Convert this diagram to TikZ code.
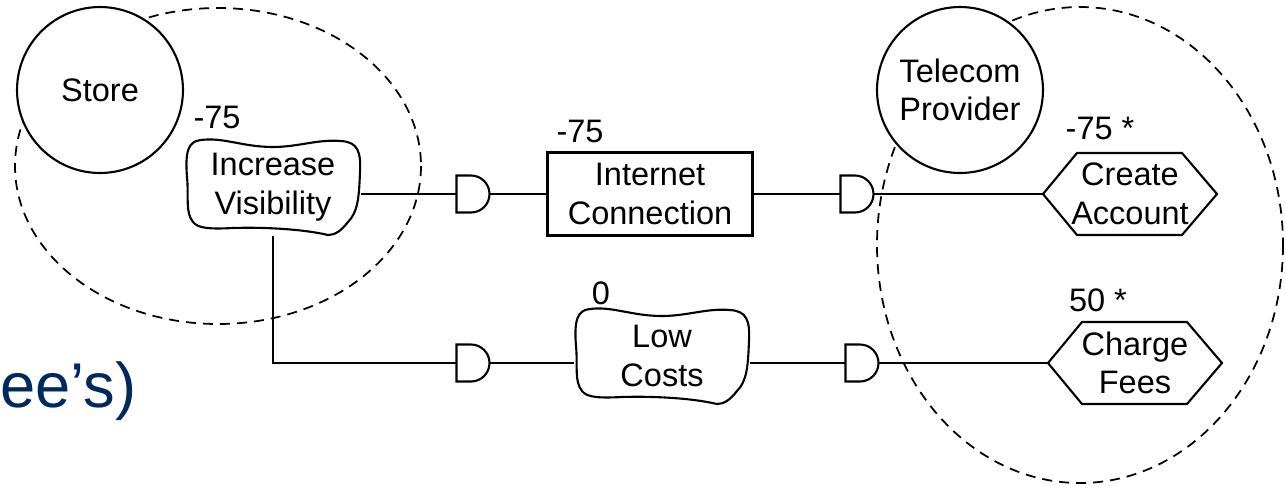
\documentclass[tikz,border=0pt]{standalone}
\usepackage{fontspec}
\setmainfont{Liberation Sans}

\definecolor{titleblue}{RGB}{0,41,96}

% wavy outline around a softgoal node
\newcommand{\softgoalline}[1]{%
  \begin{scope}[shift={(#1.center)}]
    \draw [line width=1.2pt] (-72,-47) .. controls (-50,-50) and (-30,-40) .. (0,-40)
      .. controls (25,-40) and (45,-48) .. (68,-46)
      .. controls (85,-45) and (88,-35) .. (87,-15)
      .. controls (86,10) and (85,25) .. (75,35)
      .. controls (68,44) and (62,48) .. (55,48)
      .. controls (30,42) and (-10,40) .. (-40,41)
      .. controls (-60,42) and (-75,42) .. (-80,35)
      .. controls (-88,25) and (-84,10) .. (-86,-10)
      .. controls (-88,-35) and (-85,-46) .. (-72,-47) -- cycle;
  \end{scope}}

% hexagon around a task node
\newcommand{\taskline}[1]{%
  \begin{scope}[shift={(#1.center)}]
    \draw [line width=1.2pt] (-87,0) -- (-53,-41) -- (52,-41) -- (87,0)
      -- (52,41) -- (-53,41) -- cycle;
  \end{scope}}

% and-decomposition gate
\newcommand{\gateline}[1]{%
  \begin{scope}[shift={(#1.center)}]
    \draw [line width=1.2pt] (-2,-18.5) .. controls (8.2,-18.5) and (16.5,-10.2) .. (16.5,0)
      .. controls (16.5,10.2) and (8.2,18.5) .. (-2,18.5) -- (-16.5,18.5) -- (-16.5,-18.5) -- cycle;
  \end{scope}}

\begin{document}
\begin{tikzpicture}
    [
    x=0.02cm, y=-0.02cm,
    every node/.style={font=\fontsize{18.5}{22}\selectfont,align=center},
    actor/.style={circle,draw,fill=white,line width=1.2pt,inner sep=0pt,minimum size=3.32cm},
    boundary/.style={line width=1pt,dash pattern=on 5.7pt off 4pt},
    softgoal/.style={rectangle,inner sep=0pt,minimum width=3.5cm,minimum height=1.94cm},
    resource/.style={rectangle,draw,line width=1.2pt,inner sep=0pt,minimum width=4.1cm,minimum height=1.66cm},
    task/.style={rectangle,inner sep=0pt,minimum width=3.48cm,minimum height=1.64cm},
    andgate/.style={rectangle,inner sep=0pt,minimum width=0.66cm,minimum height=0.74cm},
    link/.style={line width=1.2pt}
    ]
    \useasboundingbox (0,0) rectangle (1286,485);
    \draw [boundary] (218,166) ellipse [x radius=203, y radius=158];
    \draw [boundary] (1080,245) ellipse [x radius=203, y radius=238];
    \node (store) at (100,90) [actor] {Store};
    \node (telecom) at (960,90) [actor] {Telecom\\Provider};
    \node (vis) at (273,187) [softgoal] {Increase\\Visibility};
    \softgoalline{vis}
    \node (low) at (662,356) [softgoal] {Low\\Costs};
    \softgoalline{low}
    \node (inet) at (650,194) [resource] {Internet\\Connection};
    \node (acc) at (1130,194) [task] {Create\\Account};
    \taskline{acc}
    \node (fees) at (1135,363) [task] {Charge\\Fees};
    \taskline{fees}
    \node (g1) at (473,194) [andgate] {};
    \gateline{g1}
    \node (g2) at (857,194) [andgate] {};
    \gateline{g2}
    \node (g3) at (473,363) [andgate] {};
    \gateline{g3}
    \node (g4) at (862,363) [andgate] {};
    \gateline{g4}
    \node (visval) at (217,117) {-75};
    \node (inetval) at (580,131) {-75};
    \node (lowval) at (601,293) {0};
    \node (accval) at (1100,128) {-75 *};
    \node (feesval) at (1098,300) {50 *};
    \node (title) at (0,407) [anchor=base west,inner sep=0pt,text=titleblue,font=\fontsize{36}{40}\selectfont] {ee’s)};
    \draw [link] (g1.west -| vis.east) -- (g1.west);
    \draw [link] (g1.east) -- (inet.west);
    \draw [link] (inet.east) -- (g2.west);
    \draw [link] (g2.east) -- (acc.west);
    \draw [link] (vis.south) |- (g3.west);
    \draw [link] (g3.east) -- (g3.east -| low.west);
    \draw [link] (low.east |- g4.west) -- (g4.west);
    \draw [link] (g4.east) -- (fees.west);
  \end{tikzpicture}
\end{document}
